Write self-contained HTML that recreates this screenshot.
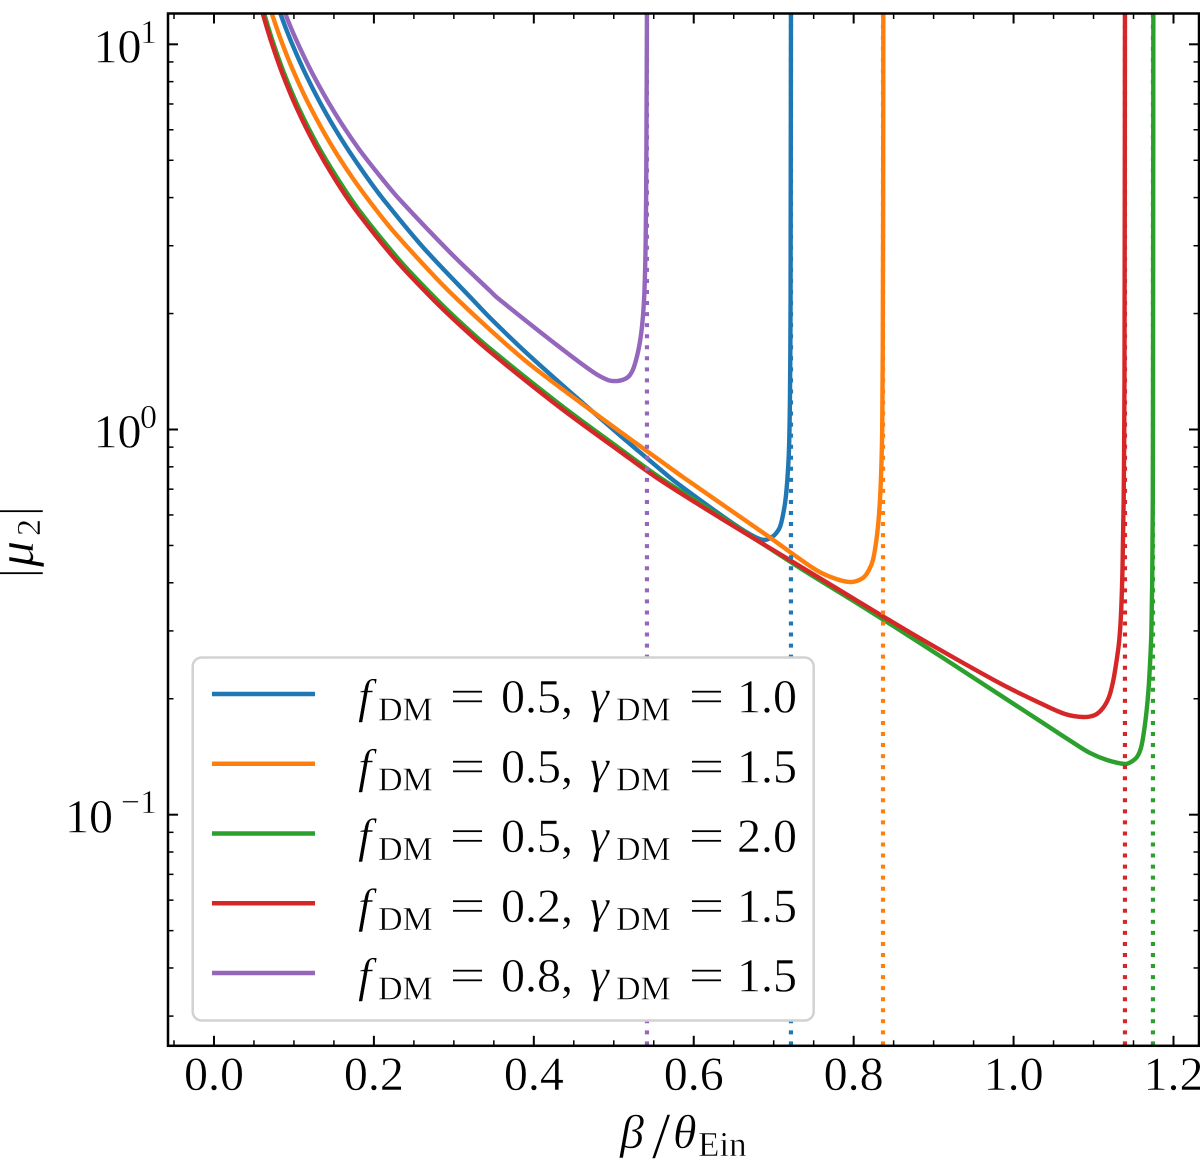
<!DOCTYPE html>
<html lang="en">
<head>
<meta charset="utf-8">
<title>Magnification of second image</title>
<style>
html,body{margin:0;padding:0;background:#fff;}
svg{display:block;}
text{font-family:"Liberation Serif","DejaVu Serif",serif;fill:#000;stroke:#fff;stroke-width:0.45px;}
</style>
</head>
<body>
<svg id="chart" xmlns="http://www.w3.org/2000/svg" width="1200" height="1171" viewBox="0 0 1200 1171">
  <defs>
    <clipPath id="plot-clip"><rect x="168" y="13.5" width="1031" height="1032.3"/></clipPath>
  </defs>
  <rect x="0" y="0" width="1200" height="1171" fill="#fff"/>
  <g id="series" clip-path="url(#plot-clip)"></g>
  <g id="critical" clip-path="url(#plot-clip)"></g>
  <g id="legend"></g>
  <g id="ticks"></g>
  <rect x="168" y="13.5" width="1031" height="1032.3" fill="none" stroke="#000" stroke-width="2.5"/>
  <g id="tick-labels"></g>
  <g>
    <text x="620" y="1148" font-size="48" font-style="italic">β</text>
    <text x="652" y="1158" font-size="66">/</text>
    <text x="673" y="1148" font-size="48" font-style="italic">θ</text>
    <text x="698" y="1156" font-size="35">Ein</text>
  </g>
  <g transform="translate(33,573) rotate(-90)">
    <text x="-5" y="0" font-size="48">|</text>
    <text x="6" y="0" font-size="52" font-style="italic">μ</text>
    <text x="37" y="7" font-size="34">2</text>
    <text x="57" y="0" font-size="48">|</text>
  </g>
</svg>
<script>
// ---- Axis limits ----
const xDomain = [-0.0575, 1.2319];
const yLogDomain = [-1.6, 1.08];

// ---- Tick values ----
const xMajorTicks = [0, 0.2, 0.4, 0.6, 0.8, 1.0, 1.2];
const xTickLabels = ["0.0", "0.2", "0.4", "0.6", "0.8", "1.0", "1.2"];
const xMinorTicks = [-0.05, 0.05, 0.1, 0.15, 0.25, 0.3, 0.35, 0.45, 0.5, 0.55, 0.65, 0.7, 0.75, 0.85, 0.9, 0.95, 1.05, 1.1, 1.15];
const yDecades = [-1, 0, 1];
const yDecadeLabels = ["−1", "0", "1"];
const yMinorTicks = [0.03, 0.04, 0.05, 0.06, 0.07, 0.08, 0.09, 0.2, 0.3, 0.4, 0.5, 0.6, 0.7, 0.8, 0.9, 2, 3, 4, 5, 6, 7, 8, 9];

// ---- Series values: beta/theta_Ein and log10|mu_2| ----
const betaBlue = [0.0815,0.0838,0.0975,0.1163,0.1388,0.1638,0.1913,0.2139,0.2614,0.3239,0.3452,0.3914,0.4539,0.5077,0.5578,0.5790,0.6491,0.6766,0.6891,0.6978,0.7028,0.7078,0.7116,0.7147,0.7172,0.7191,0.7203,0.7211,0.7216];
const logMuBlue = [1.0943,1.0755,1.0022,0.9153,0.8256,0.7390,0.6547,0.5920,0.4732,0.3362,0.2900,0.1976,0.0820,-0.0150,-0.1030,-0.1390,-0.2440,-0.2791,-0.2869,-0.2791,-0.2700,-0.2531,-0.2220,-0.1830,-0.1259,-0.0532,0.0766,0.3362,1.0943];

const betaOrange = [0.0705,0.0725,0.0850,0.0988,0.1188,0.1451,0.1726,0.2038,0.2289,0.2789,0.3076,0.3452,0.3914,0.4539,0.5115,0.5578,0.5865,0.6916,0.7491,0.7703,0.7954,0.8116,0.8191,0.8241,0.8279,0.8308,0.8329,0.8345,0.8357,0.8364,0.8369,0.8371];
const logMuOrange = [1.0943,1.0788,1.0043,0.9326,0.8434,0.7441,0.6552,0.5674,0.5038,0.3908,0.3316,0.2591,0.1750,0.0766,-0.0110,-0.0805,-0.1235,-0.2750,-0.3596,-0.3820,-0.3959,-0.3855,-0.3647,-0.3388,-0.2950,-0.2427,-0.1830,-0.1051,-0.0013,0.2064,0.5958,1.0943];

const betaGreen = [0.0610,0.0644,0.0732,0.0869,0.1057,0.1288,0.1538,0.1801,0.2314,0.2764,0.3101,0.3452,0.4327,0.5077,0.5578,0.6328,0.7329,0.8079,0.8829,0.9830,1.0330,1.0743,1.0955,1.1168,1.1393,1.1468,1.1543,1.1593,1.1630,1.1662,1.1687,1.1709,1.1724,1.1734,1.1741,1.1745,1.1748];
const logMuGreen = [1.0930,1.0680,1.0090,0.9290,0.8360,0.7410,0.6540,0.5730,0.4410,0.3420,0.2745,0.2100,0.0650,-0.0500,-0.1250,-0.2246,-0.3596,-0.4556,-0.5543,-0.6893,-0.7568,-0.8126,-0.8398,-0.8580,-0.8684,-0.8632,-0.8502,-0.8268,-0.7853,-0.7334,-0.6763,-0.5984,-0.5205,-0.3907,-0.1830,0.3362,1.0943];

const betaRed = [0.0600,0.0625,0.0713,0.0850,0.1038,0.1263,0.1513,0.1776,0.2289,0.2739,0.3076,0.3452,0.4327,0.5077,0.5578,0.6328,0.7329,0.8079,0.8829,0.9830,1.0330,1.0643,1.0868,1.1018,1.1118,1.1193,1.1243,1.1280,1.1318,1.1343,1.1362,1.1377,1.1387,1.1393];
const logMuRed = [1.0882,1.0690,1.0090,0.9270,0.8330,0.7390,0.6500,0.5690,0.4365,0.3380,0.2710,0.2020,0.0570,-0.0570,-0.1310,-0.2290,-0.3550,-0.4490,-0.5420,-0.6590,-0.7100,-0.7386,-0.7464,-0.7412,-0.7230,-0.6945,-0.6555,-0.6114,-0.5543,-0.4816,-0.3647,-0.1830,0.1285,1.0943];

const betaPurple = [0.0880,0.0900,0.1038,0.1238,0.1501,0.1801,0.2114,0.2326,0.2951,0.3452,0.3552,0.4240,0.4740,0.4927,0.5040,0.5140,0.5202,0.5252,0.5303,0.5340,0.5365,0.5384,0.5399,0.5408,0.5415];
const logMuPurple = [1.0943,1.0755,1.0073,0.9215,0.8253,0.7314,0.6480,0.5960,0.4600,0.3600,0.3405,0.2270,0.1493,0.1285,0.1259,0.1311,0.1415,0.1623,0.2012,0.2453,0.2947,0.3621,0.4920,0.7256,1.0943];

// ---- Critical (caustic) positions, dotted verticals ----
const seriesNames = ["blue", "orange", "green", "red", "purple"];
const seriesColors = ["#1f77b4", "#ff7f0e", "#2ca02c", "#d62728", "#9467bd"];
const criticalBeta = [0.7216, 0.8367, 1.1743, 1.1393, 0.5415];

// ---- Legend values ----
const legendF = ["0.5", "0.5", "0.5", "0.2", "0.8"];
const legendGamma = ["1.0", "1.5", "2.0", "1.5", "1.5"];

const allBeta = [betaBlue, betaOrange, betaGreen, betaRed, betaPurple];
const allLogMu = [logMuBlue, logMuOrange, logMuGreen, logMuRed, logMuPurple];

const NS = "http://www.w3.org/2000/svg";
const PLOT_LEFT = 168, PLOT_RIGHT = 1199, PLOT_TOP = 13.5, PLOT_BOTTOM = 1045.8;

function xScale(b) {
  return PLOT_LEFT + (b - xDomain[0]) * (PLOT_RIGHT - PLOT_LEFT) / (xDomain[1] - xDomain[0]);
}
function yScale(l) {
  return PLOT_BOTTOM - (l - yLogDomain[0]) * (PLOT_BOTTOM - PLOT_TOP) / (yLogDomain[1] - yLogDomain[0]);
}
function make(tag, attrs, parent, txt) {
  const el = document.createElementNS(NS, tag);
  for (const k in attrs) el.setAttribute(k, attrs[k]);
  if (txt !== undefined) el.textContent = txt;
  parent.appendChild(el);
  return el;
}
function smoothPath(pts) {
  const unit = (a, b) => {
    const dx = b[0] - a[0], dy = b[1] - a[1];
    const d = Math.hypot(dx, dy) || 1;
    return [dx / d, dy / d];
  };
  let d = "M" + pts[0][0].toFixed(2) + " " + pts[0][1].toFixed(2);
  for (let i = 0; i < pts.length - 1; i++) {
    const p0 = pts[Math.max(i - 1, 0)], p1 = pts[i], p2 = pts[i + 1], p3 = pts[Math.min(i + 2, pts.length - 1)];
    const len = Math.hypot(p2[0] - p1[0], p2[1] - p1[1]);
    const t1 = unit(p0, p2), t2 = unit(p1, p3);
    d += "C" + (p1[0] + t1[0] * len / 3).toFixed(2) + " " + (p1[1] + t1[1] * len / 3).toFixed(2) + " " +
         (p2[0] - t2[0] * len / 3).toFixed(2) + " " + (p2[1] - t2[1] * len / 3).toFixed(2) + " " +
         p2[0].toFixed(2) + " " + p2[1].toFixed(2);
  }
  return d;
}

// Curves
const seriesGroup = document.getElementById("series");
allBeta.forEach(function (betas, s) {
  const pts = betas.map(function (b, i) { return [xScale(b), yScale(allLogMu[s][i])]; });
  const path = make("path", { d: smoothPath(pts), fill: "none", stroke: seriesColors[s], "stroke-width": 4.4, "stroke-linejoin": "round" }, seriesGroup);
  
  
});

// Dotted vertical lines
const criticalGroup = document.getElementById("critical");
criticalBeta.forEach(function (b, s) {
  const line = make("line", { x1: xScale(b), x2: xScale(b), y1: PLOT_BOTTOM - 0.4, y2: PLOT_TOP, stroke: seriesColors[s], "stroke-width": 4.2, "stroke-dasharray": "4 7.05" }, criticalGroup);
  
  
});

// Ticks
const ticksGroup = document.getElementById("ticks");
function addXTick(v, len, w) {
  const x = xScale(v);
  const bottom = make("line", { x1: x, x2: x, y1: PLOT_BOTTOM, y2: PLOT_BOTTOM - len, stroke: "#000", "stroke-width": w }, ticksGroup);
  
  
  const top = make("line", { x1: x, x2: x, y1: PLOT_TOP, y2: PLOT_TOP + len, stroke: "#000", "stroke-width": w }, ticksGroup);
  
  
}
function addYTick(l, len, w) {
  const y = yScale(l);
  const left = make("line", { x1: PLOT_LEFT, x2: PLOT_LEFT + len, y1: y, y2: y, stroke: "#000", "stroke-width": w }, ticksGroup);
  
  
  const right = make("line", { x1: PLOT_RIGHT, x2: PLOT_RIGHT - len, y1: y, y2: y, stroke: "#000", "stroke-width": w }, ticksGroup);
  
  
}
xMajorTicks.forEach(function (v) { addXTick(v, 10, 2); });
xMinorTicks.forEach(function (v) { addXTick(v, 5.5, 1.5); });
yDecades.forEach(function (v) { addYTick(v, 10, 2); });
yMinorTicks.forEach(function (v) { addYTick(Math.log10(v), 5.5, 1.5); });

// Tick labels
const labelGroup = document.getElementById("tick-labels");
xMajorTicks.forEach(function (v, i) {
  const t = make("text", { x: xScale(v), y: 1090, "font-size": 48, "text-anchor": "middle" }, labelGroup, xTickLabels[i]);
  
  
});
yDecades.forEach(function (v, i) {
  const y = yScale(v);
  const base = make("text", { x: 141.5, y: y + 18, "font-size": 48, "text-anchor": "end" }, labelGroup, "10");
  
  
  const exp = make("text", { x: 157, y: y - 1.5, "font-size": 34, "text-anchor": "end" }, labelGroup, yDecadeLabels[i]);
  
  
  if (v < 0) base.setAttribute("x", 113);
});

// Legend
const legendGroup = document.getElementById("legend");
const legendBox = make("rect", { x: 192.7, y: 657.5, width: 621, height: 363, rx: 9, ry: 9, fill: "#fff", stroke: "#d2d2d2", "stroke-width": 2.5 }, legendGroup);


const rowStep = 69.75;
legendF.forEach(function (f, i) {
  const lineY = 694 + i * rowStep;
  const baseY = 712.7 + i * rowStep;
  const entry = make("g", {}, legendGroup);
  
  
  make("line", { x1: 212, x2: 315, y1: lineY, y2: lineY, stroke: seriesColors[i], "stroke-width": 4.4 }, entry);
  make("text", { x: 358, y: baseY, "font-size": 48, "font-style": "italic" }, entry, "f");
  make("text", { x: 378, y: baseY + 8, "font-size": 34 }, entry, "DM");
  make("text", { x: 449.5, y: baseY, "font-size": 48, textLength: 36, lengthAdjust: "spacingAndGlyphs" }, entry, "=");
  make("text", { x: 501, y: baseY, "font-size": 48 }, entry, f + ",");
  make("text", { x: 590, y: baseY, "font-size": 48, "font-style": "italic" }, entry, "γ");
  make("text", { x: 616, y: baseY + 8, "font-size": 34 }, entry, "DM");
  make("text", { x: 688.5, y: baseY, "font-size": 48, textLength: 36, lengthAdjust: "spacingAndGlyphs" }, entry, "=");
  make("text", { x: 737, y: baseY, "font-size": 48 }, entry, legendGamma[i]);
});
</script>
</body>
</html>
